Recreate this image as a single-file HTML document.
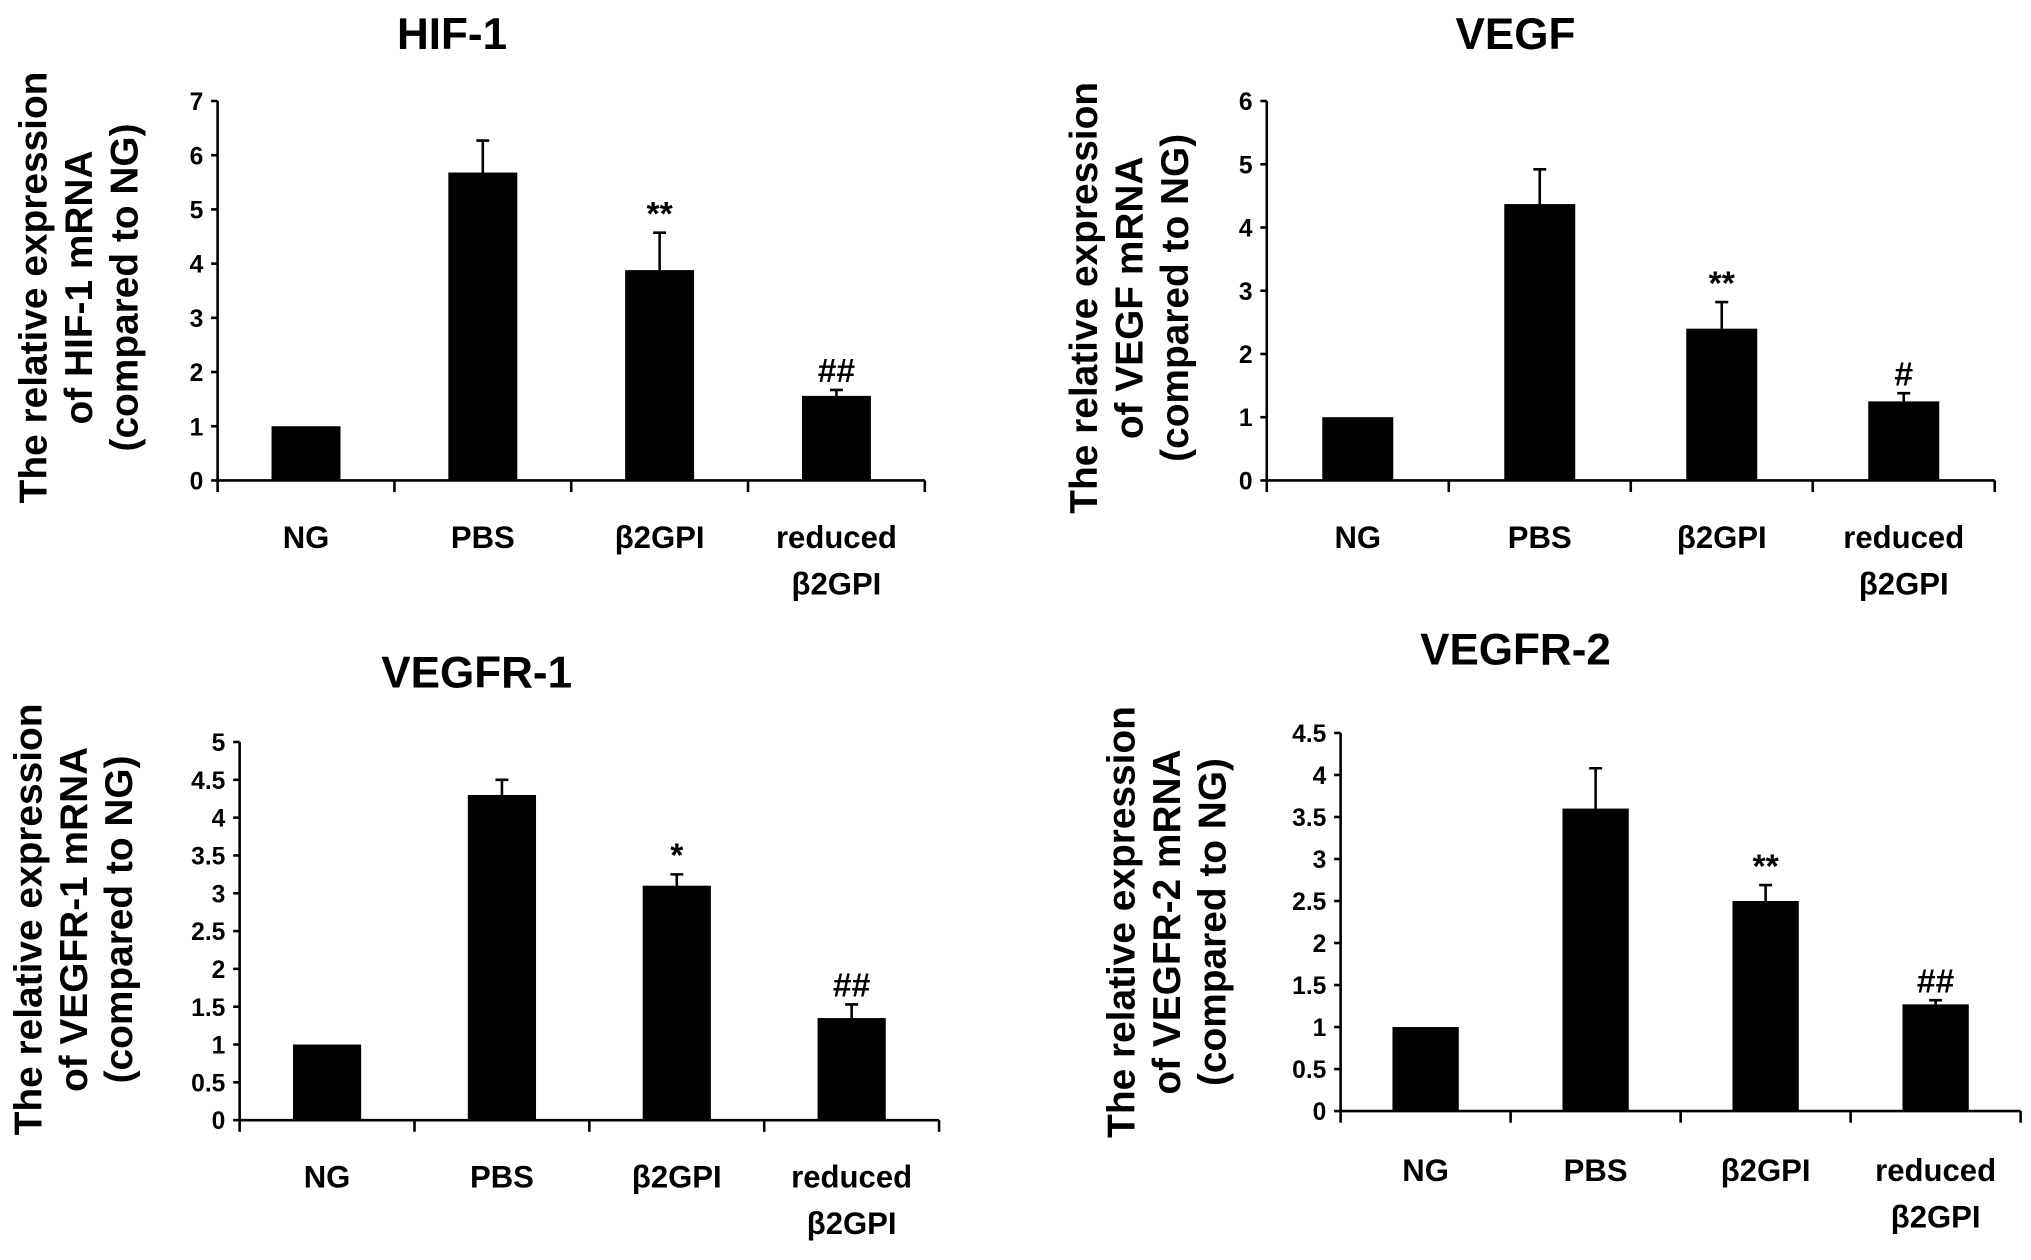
<!DOCTYPE html>
<html><head><meta charset="utf-8"><style>
html,body{margin:0;padding:0;background:#fff;}
svg{display:block;}
text{font-family:"Liberation Sans",sans-serif;font-weight:bold;fill:#000;}
</style></head><body>
<svg id="fig" width="2031" height="1260" viewBox="0 0 1568 973" preserveAspectRatio="none" xmlns="http://www.w3.org/2000/svg"></svg>
<script>
const categories = ["NG","PBS","β2GPI","reduced|β2GPI"];
const hifValues = [1, 5.68, 3.88, 1.56];
const hifErrors = [0, 0.59, 0.69, 0.11];
const hifMarks = ["", "", "**", "##"];
const hifTicks = ["0","1","2","3","4","5","6","7"];
const vegfValues = [1, 4.37, 2.4, 1.25];
const vegfErrors = [0, 0.55, 0.42, 0.13];
const vegfMarks = ["", "", "**", "#"];
const vegfTicks = ["0","1","2","3","4","5","6"];
const r1Values = [1, 4.3, 3.1, 1.35];
const r1Errors = [0, 0.2, 0.15, 0.18];
const r1Marks = ["", "", "*", "##"];
const r1Ticks = ["0","0.5","1","1.5","2","2.5","3","3.5","4","4.5","5"];
const r2Values = [1, 3.6, 2.5, 1.27];
const r2Errors = [0, 0.48, 0.19, 0.05];
const r2Marks = ["", "", "**", "##"];
const r2Ticks = ["0","0.5","1","1.5","2","2.5","3","3.5","4","4.5"];

const svg = document.getElementById('fig');
const NS = "http://www.w3.org/2000/svg";
function mk(tag, attrs, parent){ const e=document.createElementNS(NS,tag); for(const k in attrs) e.setAttribute(k,attrs[k]); parent.appendChild(e); return e; }

function panel(cfg, values, errors, marks, ticks){
  const g = mk('g',{},svg);
  
  
  const maxV = parseFloat(ticks[ticks.length-1]);
  const y = v => cfg.y0 - (v/maxV)*(cfg.y0-cfg.yTop);
  const step = (cfg.x1-cfg.x0)/categories.length;
  const xc = i => cfg.x0 + step*(i+0.5);
  const t = mk('text',{x:cfg.titleX,y:cfg.titleY,'text-anchor':'middle','font-size':34},g);
  t.textContent = cfg.title;
  
  
  const yl = mk('text',{transform:`translate(${cfg.ylX},${cfg.ylY}) rotate(-90)`,'text-anchor':'middle','font-size':30},g);
  
  
  cfg.ylLines.forEach((s,i)=>{ const ts=mk('tspan',{x:0,y:i*35},yl); ts.textContent=s; });
  const ya = mk('line',{x1:cfg.x0,y1:cfg.yTop,x2:cfg.x0,y2:cfg.y0,stroke:'#000','stroke-width':2},g);
  
  
  const xa = mk('line',{x1:cfg.x0,y1:cfg.y0,x2:cfg.x1,y2:cfg.y0,stroke:'#000','stroke-width':2},g);
  
  
  ticks.forEach(tk=>{
    const v=parseFloat(tk), yy=y(v);
    mk('line',{x1:cfg.x0-5,y1:yy,x2:cfg.x0,y2:yy,stroke:'#000','stroke-width':2},g);
    const tl = mk('text',{x:cfg.x0-11,y:yy+7,'text-anchor':'end','font-size':19},g);
    tl.textContent = tk;
    
    
  });
  for(let i=0;i<=categories.length;i++){
    const xx=cfg.x0+step*i;
    mk('line',{x1:xx,y1:cfg.y0,x2:xx,y2:cfg.y0+9,stroke:'#000','stroke-width':2},g);
  }
  categories.forEach((c,i)=>{
    const bw = step*0.39;
    const b = mk('rect',{x:xc(i)-bw/2,y:y(values[i]),width:bw,height:cfg.y0-y(values[i]),fill:'#000'},g);
    
    
    if(errors[i]>0){
      const top=y(values[i]+errors[i]);
      const el = mk('path',{d:`M${xc(i)} ${y(values[i])} V${top} M${xc(i)-5} ${top} H${xc(i)+5}`,stroke:'#000','stroke-width':2,fill:'none'},g);
      
      
    }
    if(marks[i]){
      const m = mk('text',{x:xc(i),y:y(values[i]+errors[i])-6,'text-anchor':'middle','font-size':26},g);
      m.textContent = marks[i];
      
      
    }
    c.split('|').forEach((s,k)=>{
      const cl = mk('text',{x:xc(i),y:cfg.catY+k*36,'text-anchor':'middle','font-size':24},g);
      cl.textContent = s;
      
      
    });
  });
}

panel({name:'hif1-chart',title:'HIF-1',titleX:349,titleY:38,x0:168,x1:714,yTop:78,y0:371,catY:423,ylX:36,ylY:222,
  ylLines:['The relative expression','of HIF-1 mRNA','(compared to NG)']}, hifValues, hifErrors, hifMarks, hifTicks);
panel({name:'vegf-chart',title:'VEGF',titleX:1170,titleY:38,x0:978,x1:1540,yTop:78,y0:371,catY:423,ylX:847,ylY:230,
  ylLines:['The relative expression','of VEGF mRNA','(compared to NG)']}, vegfValues, vegfErrors, vegfMarks, vegfTicks);
panel({name:'vegfr1-chart',title:'VEGFR-1',titleX:368,titleY:531,x0:185,x1:725,yTop:573,y0:865,catY:917,ylX:32,ylY:710,
  ylLines:['The relative expression','of VEGFR-1 mRNA','(compared to NG)']}, r1Values, r1Errors, r1Marks, r1Ticks);
panel({name:'vegfr2-chart',title:'VEGFR-2',titleX:1170,titleY:513,x0:1035,x1:1560,yTop:566,y0:858,catY:912,ylX:876,ylY:712,
  ylLines:['The relative expression','of VEGFR-2 mRNA','(compared to NG)']}, r2Values, r2Errors, r2Marks, r2Ticks);
</script>
</body></html>
